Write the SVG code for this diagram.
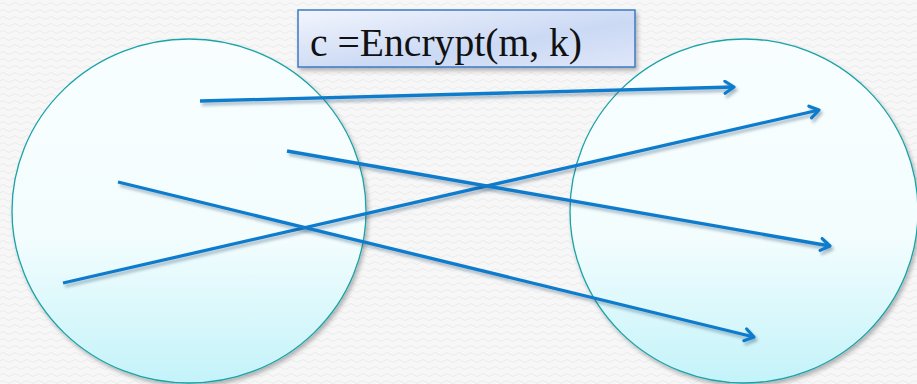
<svg xmlns="http://www.w3.org/2000/svg" width="917" height="384" viewBox="0 0 917 384">
<defs>
<pattern id="bgp" width="12" height="7" patternUnits="userSpaceOnUse">
<rect width="12" height="7" fill="#f7f7f7"/>
<path d="M0 4 Q3 1 6 4 T12 4" fill="none" stroke="#ebebeb" stroke-width="1"/>
</pattern>
<linearGradient id="cg" x1="0" y1="0" x2="0" y2="1">
<stop offset="0" stop-color="#f8feff"/>
<stop offset="0.58" stop-color="#f3fdfe"/>
<stop offset="1" stop-color="#c3f3f9"/>
</linearGradient>
<linearGradient id="bg" x1="0" y1="0" x2="1" y2="1">
<stop offset="0" stop-color="#f2f5fd"/>
<stop offset="0.6" stop-color="#cbd9f4"/>
<stop offset="1" stop-color="#dfe7f9"/>
</linearGradient>
<filter id="sh" x="-10%" y="-10%" width="130%" height="130%">
<feDropShadow dx="2" dy="3" stdDeviation="2" flood-color="#000" flood-opacity="0.28"/>
</filter>
<filter id="ash" x="-10%" y="-50%" width="130%" height="200%">
<feDropShadow dx="2" dy="3" stdDeviation="1.5" flood-color="#1a3c5a" flood-opacity="0.35"/>
</filter>
<marker id="ah" markerWidth="16" markerHeight="16" refX="12" refY="8" orient="auto" markerUnits="userSpaceOnUse">
<path d="M3 2 L12 8 L3 14" fill="none" stroke="#0f7ccd" stroke-width="3.2" stroke-linecap="round" stroke-linejoin="round"/>
</marker>
<style>
.circ{fill:url(#cg);stroke:#1aa3a8;stroke-width:1.3;filter:url(#sh)}
.arr{fill:none;stroke:#0f7ccd;stroke-width:3.3;marker-end:url(#ah);filter:url(#ash)}
.lbl{font-family:"Liberation Serif",serif;font-size:40px;fill:#111}
</style>
</defs>
<rect width="917" height="384" fill="url(#bgp)"/>
<g id="domain">
<ellipse class="circ" cx="189" cy="211" rx="177" ry="172"/>
</g>
<g id="range">
<ellipse class="circ" cx="744" cy="211" rx="174" ry="172"/>
</g>
<g id="label">
<rect x="298" y="10" width="337" height="57" fill="url(#bg)" stroke="#3d79c4" stroke-width="1.5" filter="url(#sh)"/>
<text class="lbl" x="310" y="56" textLength="272" lengthAdjust="spacingAndGlyphs">c =Encrypt(m, k)</text>
</g>
<g id="connectors">
<line class="arr" x1="200" y1="101" x2="734" y2="87"/>
<line class="arr" x1="63" y1="283" x2="819" y2="110"/>
<line class="arr" x1="287" y1="151" x2="830" y2="246"/>
<line class="arr" x1="118" y1="182" x2="754" y2="337"/>
</g>
</svg>
